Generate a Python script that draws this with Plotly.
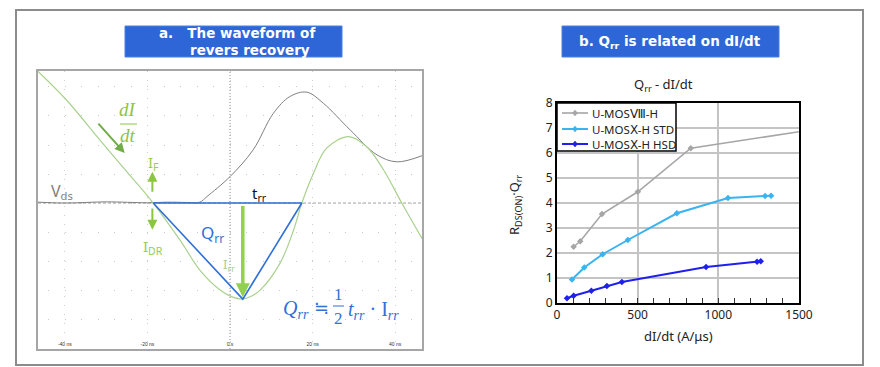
import plotly.graph_objects as go

W, H = 880, 367


def px(x):
    return x / W


def py(y):
    return 1 - y / H


# ---------------- Left panel: reverse-recovery waveform (time in ns, amplitude in divisions)
t_current = [-46.6, -39.6, -31.5, -25.0, -18.6, -12.1, -7.3, -2.4, 0.0, 2.8, 5.0, 7.3, 12.1, 15.4,
             17.4, 20.2, 23.4, 28.7, 33.1, 37.2, 41.6, 46.5]
i_current = [4.55, 3.55, 2.17, 1.08, 0.0, -1.28, -2.31, -3.0, -3.2, -3.31, -3.22, -3.0, -2.08, -0.93,
             0.0, 1.02, 1.89, 2.29, 1.94, 1.14, 0.0, -1.22]

t_vds = [-46.5, -40.0, -30.0, -20.0, -15.0, -10.0, -7.3, -5.6, 0.0, 5.6, 10.5, 14.5, 18.6, 22.6,
         29.1, 35.6, 40.4, 46.5]
v_vds = [0.03, 0.0, 0.04, 0.01, 0.03, 0.02, 0.03, 0.22, 0.91, 1.83, 3.09, 3.67, 3.82, 3.44,
         2.52, 1.66, 1.42, 1.63]

# triangle approximation of Qrr: start of trr, end of trr, peak Irr
tri_t = [-18.6, 17.4, 3.1, -18.6]
tri_i = [0.0, 0.0, -3.31, 0.0]

time_ticks = [-40, -20, 0, 20, 40]
time_tick_text = ["-40 ns", "-20 ns", "0 s", "20 ns", "40 ns"]

# ---------------- Right panel: Qrr vs dI/dt
didt_8 = [103, 144, 279, 501, 829, 1600]
qrr_8 = [2.25, 2.47, 3.56, 4.45, 6.19, 6.95]

didt_std = [93, 169, 283, 439, 743, 1060, 1290, 1327]
qrr_std = [0.94, 1.42, 1.95, 2.52, 3.59, 4.20, 4.28, 4.29]

didt_hsd = [62, 103, 213, 309, 402, 924, 1240, 1263]
qrr_hsd = [0.19, 0.29, 0.49, 0.68, 0.84, 1.44, 1.65, 1.67]

names = ["U-MOSⅧ-H", "U-MOSⅩ-H STD", "U-MOSⅩ-H HSD"]
colors = ["#A6A6A6", "#3AB4F0", "#2020EE"]
widths = [1.6, 2, 2]

GREEN = "#8CC63F"
LGREEN = "#A9D18E"
BLUE = "#2F6FD8"
BOX = "#2E66D8"

fig = go.Figure()

# left traces
fig.add_trace(go.Scatter(x=t_vds, y=v_vds, mode="lines", line=dict(color="#7F7F7F", width=1, shape="spline"),
                         showlegend=False, xaxis="x", yaxis="y", hoverinfo="skip"))
fig.add_trace(go.Scatter(x=t_current, y=i_current, mode="lines",
                         line=dict(color=LGREEN, width=1.2, shape="spline"),
                         showlegend=False, xaxis="x", yaxis="y", hoverinfo="skip"))
fig.add_trace(go.Scatter(x=tri_t, y=tri_i, mode="lines", line=dict(color=BLUE, width=1.6),
                         showlegend=False, xaxis="x", yaxis="y", hoverinfo="skip"))

# right traces
for xs, ys, nm, c, w in [(didt_8, qrr_8, names[0], colors[0], widths[0]),
                         (didt_std, qrr_std, names[1], colors[1], widths[1]),
                         (didt_hsd, qrr_hsd, names[2], colors[2], widths[2])]:
    fig.add_trace(go.Scatter(x=xs, y=ys, mode="lines+markers", name=nm, showlegend=False,
                             line=dict(color=c, width=w), marker=dict(symbol="diamond", size=5, color=c),
                             xaxis="x2", yaxis="y2", cliponaxis=True))

shapes = []
# outer frame
shapes.append(dict(type="rect", xref="paper", yref="paper", x0=px(16), x1=px(863), y0=py(365), y1=py(10),
                   line=dict(color="#8C8C8C", width=2), layer="below"))
# title boxes
shapes.append(dict(type="rect", xref="paper", yref="paper", x0=px(125), x1=px(342), y0=py(57), y1=py(26),
                   fillcolor=BOX, line=dict(color="#4A7FE0", width=1)))
shapes.append(dict(type="rect", xref="paper", yref="paper", x0=px(562), x1=px(779), y0=py(57), y1=py(26),
                   fillcolor=BOX, line=dict(color="#4A7FE0", width=1)))
# zero line and 0 s line in the scope screen
shapes.append(dict(type="line", xref="x", yref="y", x0=-46.5, x1=46.5, y0=0, y1=0,
                   line=dict(color="#A0A0A0", width=1, dash="3px,2px"), layer="below"))
shapes.append(dict(type="line", xref="x", yref="y", x0=0, x1=0, y0=-5.03, y1=4.55,
                   line=dict(color="#8A8A8A", width=1, dash="1px,2px"), layer="below"))
# dI/dt fraction bar
shapes.append(dict(type="line", xref="paper", yref="paper", x0=px(120), x1=px(137), y0=py(124), y1=py(124),
                   line=dict(color=GREEN, width=1)))
# 1/2 fraction bar in formula
shapes.append(dict(type="line", xref="paper", yref="paper", x0=px(333), x1=px(344), y0=py(306), y1=py(306),
                   line=dict(color=BLUE, width=1)))

# legend box (drawn as shapes + text for compact row spacing)
shapes.append(dict(type="rect", xref="paper", yref="paper", x0=px(557), x1=px(676), y0=py(151), y1=py(103),
                   fillcolor="white", line=dict(color="black", width=1.5)))
leg_rows = [113, 129, 144]
for row, c, w in zip(leg_rows, colors, widths):
    shapes.append(dict(type="line", xref="paper", yref="paper", x0=px(562), x1=px(588), y0=py(row), y1=py(row),
                       line=dict(color=c, width=w)))
    d = "M %f,%f L %f,%f L %f,%f L %f,%f Z" % (px(575), py(row - 3), px(577.5), py(row), px(575), py(row + 3),
                                               px(572.5), py(row))
    shapes.append(dict(type="path", xref="paper", yref="paper", path=d, fillcolor=c, line=dict(color=c, width=0.5)))

ann = []


def text(x, y, s, size, color, family="Noto Sans", xanchor="center", bold=False):
    ann.append(dict(xref="paper", yref="paper", x=px(x), y=py(y), text=("<b>%s</b>" % s) if bold else s,
                    showarrow=False, xanchor=xanchor, yanchor="middle",
                    font=dict(size=size, color=color, family=family)))


def arrow(x0, y0, x1, y1, color, width, head=2, size=1.0):
    ann.append(dict(xref="x", yref="y", axref="x", ayref="y", x=x1, y=y1, ax=x0, ay=y0, text="",
                    showarrow=True, arrowhead=head, arrowsize=size, arrowwidth=width, arrowcolor=color))


# title boxes text
text(157, 33, "a.   The waveform of", 13.5, "white", family="DejaVu Sans", xanchor="left", bold=True)
text(188, 50, "revers recovery", 13.5, "white", family="DejaVu Sans", xanchor="left", bold=True)
text(670, 42, "b. Q<sub>rr</sub> is related on dI/dt", 13.5, "white", family="DejaVu Sans", bold=True)

# left labels
text(128, 109, "<i>dI</i>", 19, GREEN, family="Liberation Serif")
text(128, 136, "<i>dt</i>", 19, GREEN, family="Liberation Serif")
text(153, 163, "I<sub>F</sub>", 15, "#92D050")
text(62, 191, "V<sub>ds</sub>", 16, "#808080")
text(259, 194, "t<sub>rr</sub>", 15, "#111111")
text(212, 233, "Q<sub>rr</sub>", 17, BLUE)
text(153, 247, "I<sub>DR</sub>", 15, "#92D050")
text(229, 265, "I<sub>rr</sub>", 13, LGREEN)
# formula
text(296, 309, "<i>Q<sub>rr</sub></i>", 20, BLUE, family="Liberation Serif")
text(321, 307, "≒", 18, BLUE, family="DejaVu Sans")
text(338, 294, "1", 17, BLUE, family="Liberation Serif")
text(338, 318, "2", 17, BLUE, family="Liberation Serif")
text(346, 310, "<i>t<sub>rr</sub></i> · I<sub><i>rr</i></sub>", 20, BLUE, family="Liberation Serif", xanchor="left")

# arrows (data coords of the left screen)
arrow(-32.2, 2.79, -25.5, 1.72, "#70AD47", 2)
arrow(-18.8, 0.34, -18.8, 1.08, GREEN, 2)
arrow(-18.8, -0.14, -18.8, -0.92, GREEN, 2)
arrow(3.1, -0.05, 3.1, -3.25, "#92D050", 3.5, head=2, size=0.8)

# legend texts
for row, nm in zip(leg_rows, names):
    text(590, row, nm, 11.5, "#222222", xanchor="left")

# right chart titles
text(663, 85, "Q<sub>rr</sub> - dI/dt", 13, "#222222")
text(678, 336, "dI/dt (A/μs)", 13, "#222222")
ann.append(dict(xref="paper", yref="paper", x=px(515), y=py(205), text="R<sub>DS(ON)</sub>·Q<sub>rr</sub>",
                textangle=-90, showarrow=False, xanchor="center", yanchor="middle",
                font=dict(size=13, color="#222222", family="Noto Sans")))

fig.update_layout(
    width=W, height=H, margin=dict(l=0, r=0, t=0, b=0),
    paper_bgcolor="white", plot_bgcolor="white",
    shapes=shapes, annotations=ann,
    showlegend=False,
    xaxis=dict(domain=[px(38), px(422)], range=[-46.5, 46.5], tickvals=time_ticks, ticktext=time_tick_text,
               ticklabelposition="inside", tickfont=dict(size=5, color="#333333", family="Liberation Sans"),
               showgrid=True, gridcolor="#CFCFCF", griddash="1px,8px", gridwidth=1, zeroline=False,
               showline=True, linecolor="#A6A6A6", linewidth=1.5, mirror=True, ticks="", automargin=False,
               fixedrange=True),
    yaxis=dict(domain=[py(349), py(71)], range=[-5.03, 4.55], dtick=1, tick0=0, showticklabels=False,
               showgrid=True, gridcolor="#C8C8C8", griddash="0px,10px,1px,5.5px", gridwidth=1, zeroline=False,
               showline=True, linecolor="#A6A6A6", linewidth=1.5, mirror=True, ticks="", automargin=False,
               fixedrange=True),
    xaxis2=dict(domain=[px(557), px(799)], range=[0, 1500], dtick=500, anchor="y2",
                tickfont=dict(size=12, color="#222222", family="Noto Sans"),
                showgrid=True, gridcolor="#C4C4C4", gridwidth=1.5, zeroline=False,
                showline=True, linecolor="black", linewidth=2, mirror=True,
                ticks="inside", ticklen=5, tickcolor="#333333",
                minor=dict(dtick=100, ticks="inside", ticklen=5, tickcolor="#333333", showgrid=False),
                automargin=False),
    yaxis2=dict(domain=[py(303), py(103)], range=[0, 8], dtick=1, anchor="x2",
                tickfont=dict(size=12, color="#222222", family="Noto Sans"),
                showgrid=True, gridcolor="#C4C4C4", gridwidth=1.5, zeroline=False,
                showline=True, linecolor="black", linewidth=2, mirror=True, ticks="",
                automargin=False),
)

fig.write_html("out.html", config={"displayModeBar": False},
               post_script="document.body.style.margin='0';document.body.style.padding='0';")
